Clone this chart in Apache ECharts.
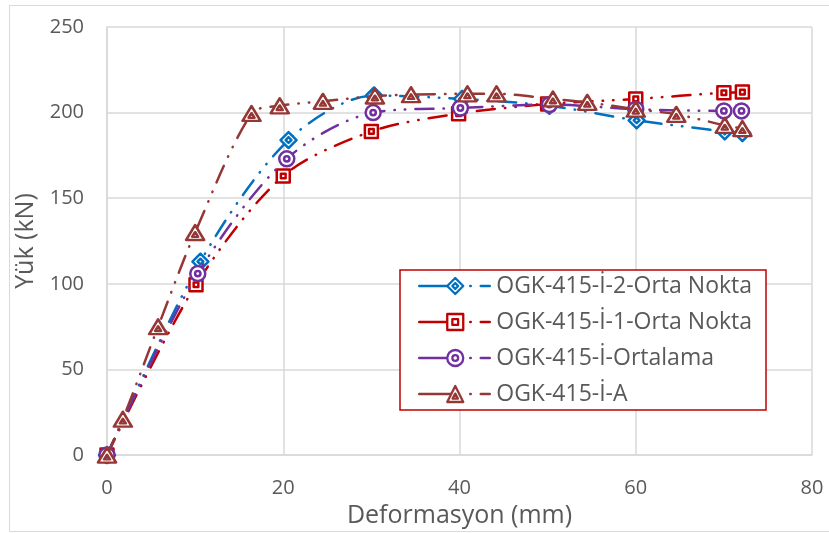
<!DOCTYPE html>
<html>
<head>
<meta charset="utf-8">
<script src="https://cdn.jsdelivr.net/npm/echarts@6/dist/echarts.min.js"></script>
<style>
html,body{margin:0;padding:0;background:#fff;}
#chart{width:829px;height:533px;}
</style>
</head>
<body>
<div id="chart"></div>
<script>
// ---- data ----
const seriesNames = ['OGK-415-İ-2-Orta Nokta', 'OGK-415-İ-1-Orta Nokta', 'OGK-415-İ-Ortalama', 'OGK-415-İ-A'];
const xTicks = [0, 20, 40, 60, 80];
const yTicks = [0, 50, 100, 150, 200, 250];

const blueX = [0, 10.6, 20.6, 30.3, 40.3, 50.2, 60.1, 70.1, 72.1];
const blueY = [0, 113, 184, 210, 208, 204, 195.5, 189, 188];

const redX = [0, 10.1, 20, 30, 39.9, 50, 60, 70, 72.1];
const redY = [0, 99.5, 163, 189, 199.4, 205, 208, 211.6, 212];

const purpleX = [0, 10.3, 20.4, 30.2, 40.1, 50.2, 60, 70, 72];
const purpleY = [0, 106, 173, 200, 202.7, 204.7, 202, 201, 201];

const brownX = [0, 1.8, 5.8, 10, 16.4, 19.6, 24.5, 30.4, 34.5, 40.9, 44.2, 50.6, 54.5, 60, 64.6, 70.1, 72.1];
const brownY = [0, 21, 75, 130, 199.5, 204, 206.6, 209.7, 210.5, 211, 211, 208, 206, 202, 199, 192.6, 190.7];

// ---- styling ----
const colors = ['#0070C0', '#C00000', '#7030A0', '#953735'];
const symbols = [
  'path://M0,-10 L10,0 L0,10 L-10,0 Z M0,-3.6 L3.6,0 L0,3.6 L-3.6,0 Z',
  'path://M-10,-10 L10,-10 L10,10 L-10,10 Z M-3.6,-3.6 L3.6,-3.6 L3.6,3.6 L-3.6,3.6 Z',
  'path://M-10,0 A10,10 0 1,0 10,0 A10,10 0 1,0 -10,0 Z M-3.6,0 A3.6,3.6 0 1,0 3.6,0 A3.6,3.6 0 1,0 -3.6,0 Z',
  'path://M0,-10 L11,9 L-11,9 Z M0,-1 L3.6,5 L-3.6,5 Z'
];
const sizes = [[16, 16], [13, 13], [15, 15], [18, 15]];
const font = "'Open Sans', 'Noto Sans', sans-serif";
const txt = '#595959';
const gridCol = '#D9D9D9';

function pairs(xs, ys) { return xs.map((x, i) => [x, ys[i]]); }
const datasets = [pairs(blueX, blueY), pairs(redX, redY), pairs(purpleX, purpleY), pairs(brownX, brownY)];

const series = datasets.map((d, i) => ({
  name: seriesNames[i],
  type: 'line',
  data: d,
  smooth: 0.3,
  symbol: symbols[i],
  symbolSize: sizes[i],
  showAllSymbol: true,
  lineStyle: { color: colors[i], width: 2.5, type: [18, 10, 0.5, 10, 0.5, 10], cap: 'round' },
  itemStyle: { color: '#ffffff', borderColor: colors[i], borderWidth: 2.5, borderJoin: 'round' },
  emphasis: { disabled: true },
  z: 2 + i
}));

const legendData = seriesNames.map((n, i) => ({
  name: n,
  lineStyle: { color: colors[i], width: 2.5, type: [34, 17, 0.5, 10, 9, 100], cap: 'round' },
  itemStyle: { color: '#ffffff', borderColor: colors[i], borderWidth: 2.3 }
}));

const chart = echarts.init(document.getElementById('chart'), null, { renderer: 'canvas' });
chart.setOption({
  animation: false,
  backgroundColor: '#ffffff',
  textStyle: { fontFamily: font },
  grid: { left: 107, right: 17, top: 27, bottom: 75, containLabel: false },
  xAxis: {
    type: 'value', min: xTicks[0], max: xTicks[xTicks.length - 1], interval: 20,
    name: 'Deformasyon (mm)', nameLocation: 'middle', nameGap: 42,
    nameTextStyle: { color: txt, fontSize: 25, fontFamily: font },
    axisLine: { show: true, lineStyle: { color: gridCol, width: 1.5 } },
    axisTick: { show: false },
    axisLabel: { color: txt, fontSize: 20, fontFamily: font, margin: 23 },
    splitLine: { show: true, lineStyle: { color: gridCol, width: 1.5 } }
  },
  yAxis: {
    type: 'value', min: yTicks[0], max: yTicks[yTicks.length - 1], interval: 50,
    name: 'Yük (kN)', nameLocation: 'middle', nameGap: 64,
    nameTextStyle: { color: txt, fontSize: 25, fontFamily: font },
    axisLine: { show: true, lineStyle: { color: gridCol, width: 1.5 } },
    axisTick: { show: false },
    axisLabel: { color: txt, fontSize: 20, fontFamily: font, margin: 23 },
    splitLine: { show: true, lineStyle: { color: gridCol, width: 1.5 } }
  },
  legend: {
    data: legendData,
    orient: 'vertical',
    left: 418, top: 274,
    padding: 0,
    itemWidth: 72, itemHeight: 20, itemGap: 12,
    textStyle: { color: txt, fontSize: 23, fontFamily: font, lineHeight: 24 },
    selectedMode: false,
    z: 10
  },
  graphic: [
    { type: 'rect', shape: { x: 9.5, y: 5.5, width: 840, height: 526 }, style: { fill: 'none', stroke: gridCol, lineWidth: 1 }, z: 0, silent: true },
    { type: 'rect', shape: { x: 400, y: 270, width: 366, height: 140 }, style: { fill: '#ffffff', stroke: '#C00000', lineWidth: 1.5 }, z: 8, silent: true }
  ],
  series: series
});
</script>
</body>
</html>
